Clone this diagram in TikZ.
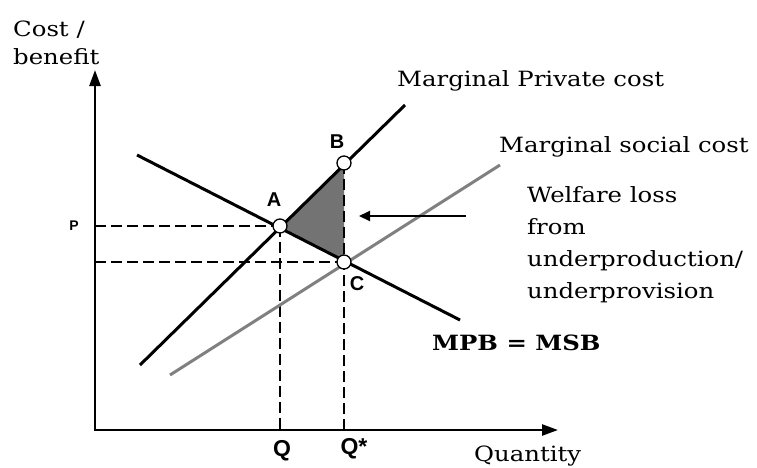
\documentclass[tikz,border=0pt]{standalone}
\usepackage{fontspec}
\setmainfont{DejaVu Serif}[FakeStretch=1.16]
\newfontfamily\lab{Liberation Sans}
\usetikzlibrary{arrows.meta}
\begin{document}
\begin{tikzpicture}[x=1pt,y=-1pt,
  curve/.style={line width=3pt},
  dashline/.style={line width=1.1pt, dash pattern=on 11pt off 5pt},
  pt/.style={circle, draw=black, fill=white, line width=1.3pt, inner sep=0pt, minimum size=14pt},
  ptlab/.style={font=\lab\bfseries\fontsize{20}{22}\selectfont, inner sep=0pt},
  txt/.style={font=\fontsize{21}{25}\selectfont, inner sep=0pt}]
\useasboundingbox (0,0) rectangle (757,467);
% coordinates
\coordinate (O) at (95,430);
\coordinate (ytop) at (95,70);
\coordinate (xend) at (558,430);
\coordinate (A) at (280,226);
\coordinate (B) at (344,163);
\coordinate (C) at (344,262);
\coordinate (mpc1) at (140,365);
\coordinate (mpc2) at (405,105);
\coordinate (msc1) at (170,375);
\coordinate (msc2) at (500,165);
\coordinate (mpb1) at (137,155);
\coordinate (mpb2) at (460,320);
\coordinate (Py) at (95,226);
\coordinate (Cy) at (95,262);
\coordinate (Qx) at (280,430);
\coordinate (Qsx) at (344,430);
% shaded triangle
\fill[black!55] (A) -- (B) -- (C) -- cycle;
% dashed guides
\draw[dashline] (Py) -- (A);
\draw[dashline] (Cy) -- (C);
\draw[dashline] (A) -- (Qx);
\draw[dashline] (B) -- (Qsx);
% curves
\draw[curve, black!50] (msc1) -- (msc2);
\draw[curve] (mpc1) -- (mpc2);
\draw[curve] (mpb1) -- (mpb2);
% axes
\draw[line width=2.5pt, -{Triangle[length=16pt,width=11pt]}] (O) -- (ytop);
\draw[line width=2.5pt, -{Triangle[length=16pt,width=11pt]}] ([xshift=-1.25pt]O) -- (xend);
% points
\node[pt] (nA) at (A) {};
\node[pt] (nB) at (B) {};
\node[pt] (nC) at (C) {};
% point labels
\node[ptlab] (lA) at (274,200) {A};
\node[ptlab] (lB) at (337,142) {B};
\node[ptlab] (lC) at (357,284) {C};
\node[ptlab, font=\lab\bfseries\fontsize{14}{16}\selectfont] (lP) at (74,226) {P};
\node[ptlab, font=\lab\bfseries\fontsize{23}{25}\selectfont] (lQ) at (282,451) {Q};
\node[ptlab, font=\lab\bfseries\fontsize{23}{25}\selectfont] (lQs) at (354,449) {Q*};
% texts
\node[txt, anchor=west] (cost) at (13,30) {Cost /};
\node[txt, anchor=west] (ben) at (13,57) {benefit};
\node[txt, anchor=west] (qty) at (474,456) {Quantity};
\node[txt, anchor=west] (mpcl) at (397,81) {Marginal Private cost};
\node[txt, anchor=west] (mscl) at (499,147) {Marginal social cost};
\node[txt, anchor=west, font=\bfseries\fontsize{21}{25}\selectfont] (mpbl) at (432,343) {MPB = MSB};
\node[txt, anchor=north west, align=left, font=\fontsize{21}{32}\selectfont] (wl) at (527,186) {Welfare loss\\from\\underproduction/\\underprovision};
% arrow
\coordinate (arrS) at (466,216);
\draw[line width=2pt, -{Triangle[length=11pt,width=10pt]}] (arrS) -- (359,216);
\end{tikzpicture}
\end{document}
